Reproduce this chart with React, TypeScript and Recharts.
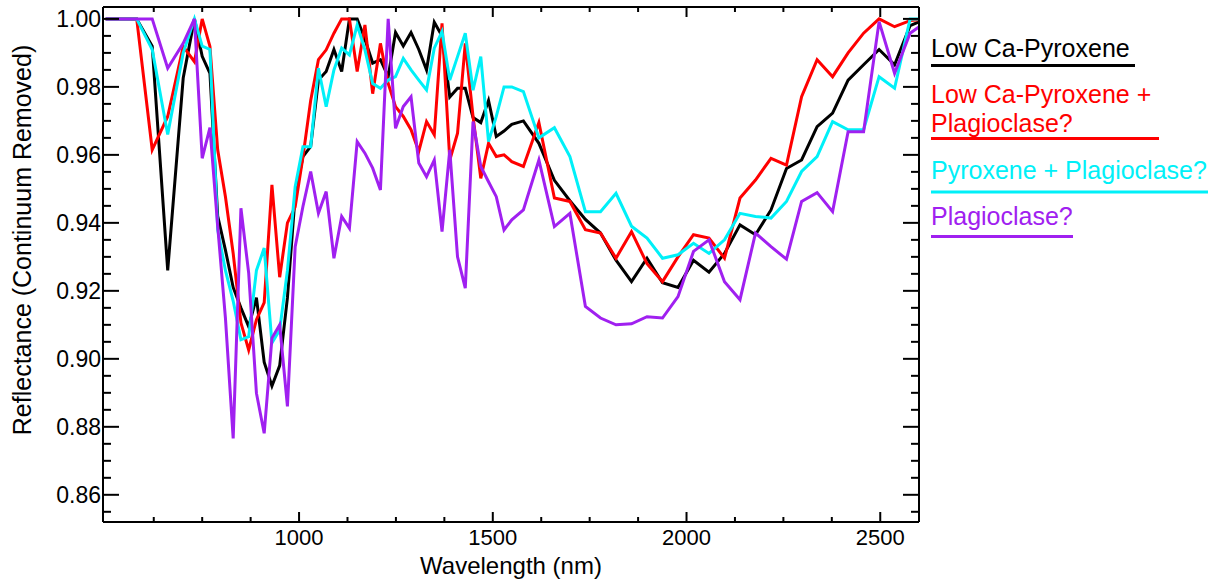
import { LineChart, Line, XAxis, YAxis } from "recharts";

// M3-style band centres (nm)
const wavelengths = [
  501, 541, 581, 621, 661, 701, 730, 750, 770, 790, 810, 830, 850, 870, 890,
  910, 930, 950, 970, 990, 1010, 1030, 1050, 1070, 1090, 1110, 1130, 1150,
  1170, 1190, 1210, 1230, 1249, 1269, 1289, 1309, 1329, 1349, 1369, 1389,
  1409, 1429, 1449, 1469, 1489, 1509, 1529, 1549, 1579, 1619, 1659, 1699,
  1739, 1778, 1818, 1858, 1898, 1938, 1978, 2018, 2058, 2098, 2138, 2178,
  2218, 2258, 2297, 2337, 2377, 2417, 2457, 2497, 2537, 2577, 2617,
];

const lowCaPyroxene = [
  1.0, 1.0, 1.0, 0.992, 0.926, 0.9826, 1.0, 0.989, 0.984, 0.942, 0.932, 0.921,
  0.915, 0.9095, 0.918, 0.899, 0.892, 0.898, 0.918, 0.948, 0.9595, 0.9625,
  0.982, 0.9845, 0.991, 0.9845, 1.0, 1.0, 0.994, 0.987, 0.988, 0.983, 0.996,
  0.992, 0.996, 0.991, 0.985, 0.999, 0.995, 0.977, 0.9796, 0.9796, 0.971,
  0.9695, 0.976, 0.9654, 0.967, 0.969, 0.97, 0.9634, 0.9525, 0.9465, 0.941,
  0.937, 0.929, 0.9227, 0.9296, 0.9224, 0.921, 0.929, 0.9255, 0.931, 0.9394,
  0.9365, 0.9438, 0.956, 0.9585, 0.9683, 0.9723, 0.982, 0.9865, 0.991,
  0.9865, 0.998, 1.0,
];

const lowCaPyroxenePlag = [
  1.0, 1.0, 1.0, 0.9615, 0.9713, 0.9919, 0.9874, 1.0, 0.9919, 0.9615, 0.9477,
  0.931, 0.9106, 0.9026, 0.9115, 0.9165, 0.9512, 0.924, 0.94, 0.9447, 0.9594,
  0.976, 0.988, 0.9909, 0.9958, 1.0, 1.0, 0.9845, 0.9982, 0.978, 0.9928,
  0.981, 0.9742, 0.9713, 0.9674, 0.961, 0.9698, 0.9659, 0.9987, 0.9585,
  0.9664, 0.9928, 0.9713, 0.9531, 0.9634, 0.9595, 0.96, 0.958, 0.9566,
  0.9695, 0.9473, 0.9463, 0.938, 0.937, 0.9296, 0.9374, 0.928, 0.9227, 0.93,
  0.9365, 0.9355, 0.9296, 0.9473, 0.9526, 0.959, 0.957, 0.9771, 0.988, 0.983,
  0.99, 0.9958, 1.0, 0.9977, 0.9995, 1.0,
];

const pyroxenePlag = [
  1.0, 1.0, 1.0, 0.991, 0.966, 0.99, 1.0, 0.992, 0.991, 0.938, 0.926, 0.917,
  0.9056, 0.9065, 0.926, 0.9326, 0.9047, 0.9085, 0.926, 0.9506, 0.9624,
  0.9624, 0.9855, 0.9742, 0.985, 0.9914, 0.9894, 0.9982, 0.9909, 0.981,
  0.9796, 0.982, 0.983, 0.9884, 0.985, 0.982, 0.9791, 0.9914, 0.9963, 0.982,
  0.9889, 0.9958, 0.979, 0.9889, 0.9639, 0.9713, 0.98, 0.98, 0.9786, 0.965,
  0.968, 0.9595, 0.9433, 0.9433, 0.9487, 0.939, 0.9355, 0.9296, 0.9306,
  0.934, 0.931, 0.935, 0.9428, 0.9419, 0.9414, 0.9463, 0.9551, 0.9595,
  0.9698, 0.9674, 0.9674, 0.983, 0.9796, 1.0, 1.0,
];

const plagioclase = [
  1.0, 1.0, 1.0, 1.0, 0.9855, 0.9928, 1.0, 0.959, 0.968, 0.939, 0.912, 0.8766,
  0.9443, 0.9252, 0.8899, 0.8781, 0.9061, 0.91, 0.886, 0.933, 0.9448, 0.9551,
  0.9428, 0.9492, 0.9296, 0.9419, 0.9384, 0.9639, 0.9605, 0.9561, 0.9497,
  1.0, 0.9678, 0.9742, 0.9771, 0.9576, 0.9536, 0.9585, 0.9374, 0.9615, 0.93,
  0.9208, 0.9698, 0.9566, 0.9521, 0.9477, 0.9379, 0.9409, 0.9438, 0.9585,
  0.9389, 0.9428, 0.9154, 0.912, 0.91, 0.9103, 0.9124, 0.912, 0.9183, 0.9316,
  0.935, 0.9227, 0.9174, 0.937, 0.933, 0.9293, 0.9463, 0.9489, 0.9433,
  0.9668, 0.9668, 0.9992, 0.984, 0.9958, 0.999,
];

const xTicks = [
  625, 750, 875, 1000, 1125, 1250, 1375, 1500, 1625, 1750, 1875, 2000, 2125,
  2250, 2375, 2500,
];
const xMajorTicks = [1000, 1500, 2000, 2500];

const yTicks = [
  0.855, 0.86, 0.865, 0.87, 0.875, 0.88, 0.885, 0.89, 0.895, 0.9, 0.905, 0.91,
  0.915, 0.92, 0.925, 0.93, 0.935, 0.94, 0.945, 0.95, 0.955, 0.96, 0.965,
  0.97, 0.975, 0.98, 0.985, 0.99, 0.995, 1.0,
];
const yMajorTicks = [0.86, 0.88, 0.9, 0.92, 0.94, 0.96, 0.98, 1.0];

const series = [
  { key: "lowCaPyroxene", color: "#000000", lines: ["Low Ca-Pyroxene"] },
  { key: "lowCaPyroxenePlag", color: "#ff0000", lines: ["Low Ca-Pyroxene +", "Plagioclase?"] },
  { key: "pyroxenePlag", color: "#00f0f8", lines: ["Pyroxene + Plagioclase?"] },
  { key: "plagioclase", color: "#a020f0", lines: ["Plagioclase?"] },
];

const data = wavelengths.map((w, i) => ({
  wavelength: w,
  lowCaPyroxene: lowCaPyroxene[i],
  lowCaPyroxenePlag: lowCaPyroxenePlag[i],
  pyroxenePlag: pyroxenePlag[i],
  plagioclase: plagioclase[i],
}));

const FONT = "'Liberation Sans', Arial, Helvetica, sans-serif";
const frame = { stroke: "#000", strokeWidth: 2 };
const isMajor = (v: number, majors: number[]) =>
  majors.some((m) => Math.abs(m - v) < 1e-6);

// ticks point into the plot, IDL style
function BottomTick({ x, y, payload }: any) {
  const major = isMajor(payload.value, xMajorTicks);
  return (
    <g>
      <line x1={x} x2={x} y1={y} y2={y - (major ? 10 : 5)} stroke="#000" strokeWidth={2} />
      {major && (
        <text x={x} y={y + 23} textAnchor="middle" fontSize={22} fontFamily={FONT} fill="#000">
          {payload.value}
        </text>
      )}
    </g>
  );
}

function TopTick({ x, y, payload }: any) {
  const major = isMajor(payload.value, xMajorTicks);
  return <line x1={x} x2={x} y1={y} y2={y + (major ? 10 : 5)} stroke="#000" strokeWidth={2} />;
}

function LeftTick({ x, y, payload }: any) {
  const major = isMajor(payload.value, yMajorTicks);
  return (
    <g>
      <line x1={x} x2={x + (major ? 16 : 8)} y1={y} y2={y} stroke="#000" strokeWidth={2} />
      {major && (
        <text x={x - 2} y={y} dy="0.36em" textAnchor="end" fontSize={23} fontFamily={FONT} fill="#000">
          {payload.value.toFixed(2)}
        </text>
      )}
    </g>
  );
}

function RightTick({ x, y, payload }: any) {
  const major = isMajor(payload.value, yMajorTicks);
  return <line x1={x} x2={x - (major ? 16 : 8)} y1={y} y2={y} stroke="#000" strokeWidth={2} />;
}

const legendLayout = [
  { baselines: [57], underline: 65.5, x2: 1135 },
  { baselines: [103, 131.5], underline: 138.5, x2: 1159 },
  { baselines: [179], underline: 192, x2: 1208 },
  { baselines: [225], underline: 236.5, x2: 1073 },
];

function SpectraLegend() {
  return (
    <svg
      width={1229}
      height={580}
      style={{ position: "absolute", left: 0, top: 0, pointerEvents: "none" }}
    >
      {series.map((s, i) => {
        const pos = legendLayout[i];
        return (
          <g key={s.key}>
            {s.lines.map((t, j) => (
              <text key={t} x={931} y={pos.baselines[j]} fontSize={25} fontFamily={FONT} fill={s.color}>
                {t}
              </text>
            ))}
            <line x1={931} x2={pos.x2} y1={pos.underline} y2={pos.underline} stroke={s.color} strokeWidth={3} />
          </g>
        );
      })}
    </svg>
  );
}

export default function App() {
  return (
    <div style={{ position: "absolute", left: 0, top: 0, width: 1229, height: 580, background: "#fff" }}>
      <LineChart
        width={1229}
        height={580}
        data={data}
        margin={{ top: 6, right: 309, bottom: 8, left: 33 }}
      >
        <XAxis
          dataKey="wavelength"
          type="number"
          domain={[494, 2600]}
          allowDataOverflow
          ticks={xTicks}
          interval={0}
          tickSize={0}
          tickMargin={0}
          tick={BottomTick}
          axisLine={frame}
          height={50}
          label={() => (
            <text x={511} y={574} textAnchor="middle" fontSize={24} fontFamily={FONT} fill="#000">
              Wavelength (nm)
            </text>
          )}
        />
        <XAxis
          xAxisId="top"
          orientation="top"
          dataKey="wavelength"
          type="number"
          domain={[494, 2600]}
          allowDataOverflow
          ticks={xTicks}
          interval={0}
          tickSize={0}
          tickMargin={0}
          tick={TopTick}
          axisLine={frame}
          height={1}
        />
        <YAxis
          type="number"
          domain={[0.852, 1.0035]}
          allowDataOverflow
          ticks={yTicks}
          interval={0}
          tickSize={0}
          tickMargin={0}
          tick={LeftTick}
          axisLine={frame}
          width={70}
          label={() => (
            <text
              x={22}
              y={240}
              transform="rotate(-90 22 240)"
              dy="0.36em"
              textAnchor="middle"
              fontSize={25}
              fontFamily={FONT}
              fill="#000"
            >
              Reflectance (Continuum Removed)
            </text>
          )}
        />
        <YAxis
          yAxisId="right"
          orientation="right"
          type="number"
          domain={[0.852, 1.0035]}
          allowDataOverflow
          ticks={yTicks}
          interval={0}
          tickSize={0}
          tickMargin={0}
          tick={RightTick}
          axisLine={frame}
          width={1}
        />
        {series.map((s) => (
          <Line
            key={s.key}
            type="linear"
            dataKey={s.key}
            stroke={s.color}
            strokeWidth={3}
            dot={false}
            activeDot={false}
            isAnimationActive={false}
          />
        ))}
      </LineChart>
      <SpectraLegend />
    </div>
  );
}
